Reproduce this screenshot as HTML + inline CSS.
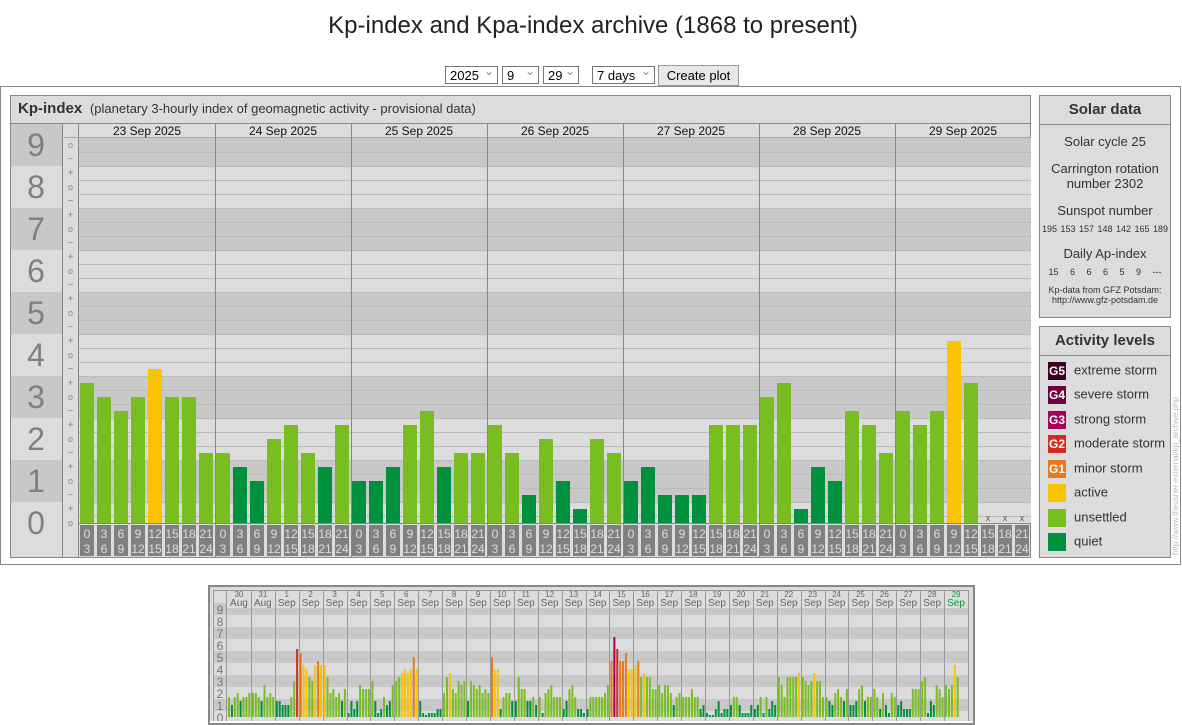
<!DOCTYPE html>
<html><head><meta charset="utf-8">
<style>
body{margin:0;width:1182px;height:721px;overflow:hidden;background:#fff;font-family:"Liberation Sans",Arial,sans-serif;position:relative}
.abs{position:absolute}
h1{position:absolute;left:0;width:1186px;top:12px;margin:0;text-align:center;font-weight:normal;font-size:24px;color:#222}
.sel{position:absolute;top:66px;height:18px;border:1px solid #777;background:#fff;font-size:13px;line-height:18px;padding-left:4px;box-sizing:border-box;color:#000}
.sel:after{content:"⌄";position:absolute;right:3px;top:-5px;color:#888;font-size:12px}
.btn{position:absolute;top:65px;left:658px;width:81px;height:21px;border:1px solid #999;background:#e8e8e8;font-size:13px;line-height:20px;text-align:center;box-sizing:border-box}
.panel{position:absolute;background:#dcdcdc;border:1px solid #888;box-sizing:border-box}
.ph{font-weight:bold;font-size:15px;color:#333;text-align:center;height:28px;line-height:28px;border-bottom:1px solid #888}
.sd{text-align:center;color:#333;font-size:13px}
.leg{position:absolute;left:8px;font-size:13px;color:#333}
.leg b{display:inline-block;width:18px;height:18px;color:#fff;font-size:12px;text-align:center;line-height:18px;vertical-align:middle;margin-right:8px}
</style></head><body>
<h1>Kp-index and Kpa-index archive (1868 to present)</h1>
<div class="sel" style="left:445px;width:53px">2025</div>
<div class="sel" style="left:502px;width:37px">9</div>
<div class="sel" style="left:543px;width:36px">29</div>
<div class="sel" style="left:592px;width:63px">7 days</div>
<div class="btn">Create plot</div>
<div class="abs" style="left:0;top:86px;width:1181px;height:479px;border:1px solid #888;box-sizing:border-box"></div>
<div class="panel" style="left:10px;top:95px;width:1021px;height:463px"></div>
<div class="abs" style="left:18px;top:100px;font-size:14px;color:#333"><b style="font-size:15px">Kp-index</b>&nbsp;&nbsp;<span style="font-size:13px">(planetary 3-hourly index of geomagnetic activity - provisional data)</span></div>
<svg id="main" class="abs" style="left:0;top:0" width="1182" height="721"></svg>

<div class="panel" style="left:1039px;top:95px;width:132px;height:223px">
<div class="ph">Solar data</div>
<div class="sd" style="margin-top:9px">Solar cycle 25</div>
<div class="sd" style="margin-top:12px;line-height:15px">Carrington rotation<br>number 2302</div>
<div class="sd" style="margin-top:12px">Sunspot number</div>
<div class="sd" style="margin-top:6px;font-size:9px;word-spacing:1px">195 153 157 148 142 165 189</div>
<div class="sd" style="margin-top:12px">Daily Ap-index</div>
<div class="sd" style="margin-top:6px;font-size:9px;word-spacing:9px">15 6 6 6 5 9 ---</div>
<div class="sd" style="margin-top:8px;font-size:9px;line-height:10px">Kp-data from GFZ Potsdam:<br>http://www.gfz-potsdam.de</div>
</div>
<div class="panel" style="left:1039px;top:326px;width:132px;height:232px">
<div class="ph">Activity levels</div>
<div class="leg" style="top:35px"><b style="background:#3d0020">G5</b>extreme storm</div>
<div class="leg" style="top:59px"><b style="background:#6e0040">G4</b>severe storm</div>
<div class="leg" style="top:84px"><b style="background:#a8005a">G3</b>strong storm</div>
<div class="leg" style="top:108px"><b style="background:#d52b1e">G2</b>moderate storm</div>
<div class="leg" style="top:133px"><b style="background:#e87a1e">G1</b>minor storm</div>
<div class="leg" style="top:157px"><b style="background:#f9c300"></b>active</div>
<div class="leg" style="top:182px"><b style="background:#78be21"></b>unsettled</div>
<div class="leg" style="top:206px"><b style="background:#00913f"></b>quiet</div>
</div>
<div class="abs" style="left:1171px;top:555px;transform:rotate(-90deg);transform-origin:0 0;font-size:8px;color:#bbb;white-space:nowrap;width:210px">http://www.theusner-external/kp_archive.php</div>

<div class="abs" style="left:208px;top:585px;width:767px;height:140px;border:2px solid #888;box-sizing:border-box;background:#fff"></div>
<svg id="small" class="abs" style="left:0;top:0" width="1182" height="721"></svg>

<script>
(function(){
var NS="http://www.w3.org/2000/svg";
function el(svg,t,a,txt){var e=document.createElementNS(NS,t);for(var k in a)e.setAttribute(k,a[k]);if(txt!==undefined)e.textContent=txt;svg.appendChild(e);return e;}
function col(t){if(t<=4)return"#00913f";if(t<=10)return"#78be21";if(t<=13)return"#f9c300";if(t<=16)return"#e87a1e";if(t<=19)return"#d52b1e";if(t<=22)return"#a8005a";if(t<=25)return"#6e0040";return"#3d0020";}
var m=document.getElementById("main");
var Y0=523,U=42;function y(k){return Y0-U*k;}
var tp,bt,k;
for(k=0;k<=9;k++){tp=Math.max(123,y(k+0.5));bt=Math.min(557,y(k-0.5));if(k==0)bt=557;
el(m,"rect",{x:11,y:tp,width:51,height:bt-tp,fill:k%2?"#c8c8c8":"#dcdcdc"});
el(m,"text",{x:36,y:y(k)+11,"text-anchor":"middle","font-size":"32","fill":"#808080"},k);}
for(k=0;k<=9;k++){tp=Math.max(137,y(k+0.5));bt=Math.min(523,y(k-0.5));
el(m,"rect",{x:79,y:tp,width:952,height:bt-tp,fill:k%2?"#c8c8c8":"#dcdcdc"});}
for(var yy=152;yy<523;yy+=14){el(m,"line",{x1:79,x2:1031,y1:yy+0.5,y2:yy+0.5,stroke:"#bababa","stroke-width":1});}
el(m,"rect",{x:62,y:123,width:17,height:434,fill:"#dcdcdc"});
el(m,"line",{x1:62.5,x2:62.5,y1:123,y2:557,stroke:"#888"});
el(m,"line",{x1:78.5,x2:78.5,y1:123,y2:557,stroke:"#888"});
el(m,"line",{x1:10,x2:1031,y1:123.5,y2:123.5,stroke:"#888"});
el(m,"line",{x1:62,x2:1031,y1:137.5,y2:137.5,stroke:"#aaa"});
for(k=0;k<=9;k++){[["+",k+1/3],["o",k],["\u2212",k-1/3]].forEach(function(p){if(p[1]>9.1||p[1]<0)return;
el(m,"text",{x:70.5,y:y(p[1])+3,"text-anchor":"middle","font-size":p[0]=="o"?"9":"10","fill":"#888"},p[0]);});}
var days=["23 Sep 2025","24 Sep 2025","25 Sep 2025","26 Sep 2025","27 Sep 2025","28 Sep 2025","29 Sep 2025"];
var data=[[10,9,8,9,11,9,9,5],[5,4,3,6,7,5,4,7],[3,3,4,7,8,4,5,5],[7,5,2,6,3,1,6,5],[3,4,2,2,2,7,7,7],[9,10,1,4,3,8,7,5],[8,7,8,13,10,-1,-1,-1]];
var hrs=["0","3","6","9","12","15","18","21","24"];
for(var d=0;d<7;d++){var x0=79+136*d;
el(m,"text",{x:x0+68,y:135,"text-anchor":"middle","font-size":"12","fill":"#111"},days[d]);
if(d>0)el(m,"line",{x1:x0+0.5,x2:x0+0.5,y1:123,y2:557,stroke:"#888"});
for(var i=0;i<8;i++){var bx=x0+1+17*i,t=data[d][i];
if(t>=0){el(m,"rect",{x:bx,y:Y0-14*t,width:14,height:14*t,fill:col(t)});}
else el(m,"text",{x:bx+7,y:521,"text-anchor":"middle","font-size":"9","fill":"#555"},"x");
el(m,"rect",{x:bx,y:525,width:14,height:31,fill:"#808080"});
el(m,"text",{x:bx+7,y:538,"text-anchor":"middle","font-size":"12","fill":"#ddd"},hrs[i]);
el(m,"text",{x:bx+7,y:553,"text-anchor":"middle","font-size":"12","fill":"#ddd"},hrs[i+1]);}}
el(m,"line",{x1:79,x2:1031,y1:523.5,y2:523.5,stroke:"#888"});

var s=document.getElementById("small");
var S0=717,SU=12;function sy(k){return S0-SU*k;}
el(s,"rect",{x:210,y:587,width:763,height:134,fill:"#dcdcdc"});
for(k=0;k<=9;k++){tp=Math.max(608,sy(k+0.5));bt=Math.min(721,sy(k-0.5));
el(s,"rect",{x:227,y:tp,width:742,height:bt-tp,fill:k%2?"#c8c8c8":"#dcdcdc"});
var t2=Math.max(597,sy(k+0.5)),b2=Math.min(721,sy(k-0.5));
el(s,"rect",{x:214,y:t2,width:13,height:b2-t2,fill:k%2?"#c8c8c8":"#dcdcdc"});
el(s,"text",{x:220,y:sy(k)+5,"text-anchor":"middle","font-size":"12","fill":"#777"},k);}
el(s,"line",{x1:213,x2:969,y1:590.5,y2:590.5,stroke:"#999"});
el(s,"line",{x1:226.5,x2:226.5,y1:590,y2:721,stroke:"#999"});
el(s,"line",{x1:968.5,x2:968.5,y1:590,y2:721,stroke:"#999"});
el(s,"line",{x1:213.5,x2:213.5,y1:590,y2:721,stroke:"#999"});
var sd=[
[5,3,5,6,4,5,5,6],[6,6,5,4,8,5,6,5],[4,4,3,3,3,5,9,17],[16,13,12,10,9,13,14,13],[13,10,6,7,5,6,4,7],
[1,4,2,4,8,7,7,7],[9,4,1,2,5,3,4,8],[9,10,11,12,11,12,15,12],[4,1,0,1,1,1,2,2],[6,10,11,7,6,9,8,9],
[4,9,8,7,8,6,7,6],[15,12,12,2,5,6,6,4],[4,10,7,7,4,4,5,3],[5,1,6,7,8,5,5,5],[2,4,7,8,5,2,2,1],
[2,5,5,5,5,5,6,8],[14,20,17,14,14,16,12,12],[13,14,10,11,10,10,7,7],[8,6,8,8,6,3,5,6],[5,5,5,7,5,5,2,3],
[1,0,0,2,4,1,2,2],[3,5,5,3,1,1,1,3],[2,3,5,1,5,2,4,3],[10,8,5,10,10,10,10,11],[10,9,8,9,11,9,9,5],
[5,4,3,6,7,5,4,7],[3,3,4,7,8,4,5,5],[7,5,2,6,3,1,6,5],[3,4,2,2,2,7,7,7],[9,10,1,4,3,8,7,5],[8,7,8,13,10,-1,-1,-1]];
var lab=[["30","Aug"],["31","Aug"]];for(var i=1;i<=29;i++)lab.push([""+i,"Sep"]);
var DW=741/31;
for(var d=0;d<31;d++){var x0=227+DW*d;
if(d>0)el(s,"line",{x1:Math.round(x0)+0.5,x2:Math.round(x0)+0.5,y1:591,y2:721,stroke:"#999"});
var c=d==30?"#0a9a3a":"#666";
el(s,"text",{x:x0+DW/2,y:597,"text-anchor":"middle","font-size":"8","fill":c},lab[d][0]);
el(s,"text",{x:x0+DW/2,y:606,"text-anchor":"middle","font-size":"10","fill":c},lab[d][1]);
for(var i=0;i<8;i++){var t=sd[d][i];if(t<0)continue;var h=Math.max(4*t,2);
el(s,"rect",{x:x0+1+i*2.9,y:S0-h,width:2,height:h,fill:col(t)});}}
})();
</script>
</body></html>
